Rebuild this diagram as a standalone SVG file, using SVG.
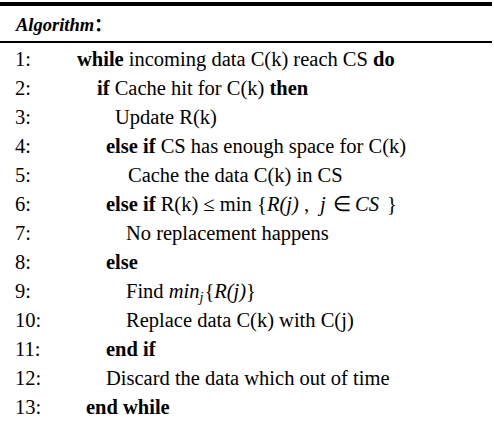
<svg xmlns="http://www.w3.org/2000/svg" width="494" height="423" viewBox="0 0 494 423">
<style>
.t{font-family:"Liberation Serif","Times New Roman",serif;font-size:20.5px;fill:#000}
.b{font-weight:bold}
.m{font-style:italic}
.h{font-family:"Liberation Serif","Noto Sans CJK SC",serif;font-size:18.5px;font-weight:bold;font-style:italic;fill:#000}
</style>
<rect x="0" y="2" width="492" height="4" fill="#000"/>
<rect x="0" y="41" width="492" height="2" fill="#000"/>
<g id="header"><text class="h" x="16" y="31">Algorithm<tspan x="94" font-style="normal">：</tspan></text></g>
<g id="rows">
<text class="t" x="15" y="65.5">1:</text>
<text class="t" x="77" y="65.5"><tspan class="b">while</tspan> incoming data C(k) reach CS <tspan class="b">do</tspan></text>
<text class="t" x="15" y="94.5">2:</text>
<text class="t" x="97" y="94.5"><tspan class="b">if</tspan> Cache hit for C(k) <tspan class="b">then</tspan></text>
<text class="t" x="15" y="123.5">3:</text>
<text class="t" x="115" y="123.5">Update R(k)</text>
<text class="t" x="15" y="152.5">4:</text>
<text class="t" x="106" y="152.5"><tspan class="b">else if</tspan> CS has enough space for C(k)</text>
<text class="t" x="15" y="181.5">5:</text>
<text class="t" x="128" y="181.5">Cache the data C(k) in CS</text>
<text class="t" x="15" y="210.5">6:</text>
<text class="t" x="106" y="210.5"><tspan class="b">else if</tspan> R(k) ≤ min<tspan x="257">{</tspan><tspan class="m" x="267">R(j)</tspan><tspan x="304">,</tspan><tspan class="m" x="320">j</tspan><tspan x="333">∈</tspan><tspan class="m" x="355">CS</tspan><tspan x="387">}</tspan></text>
<text class="t" x="15" y="239.5">7:</text>
<text class="t" x="126" y="239.5">No replacement happens</text>
<text class="t" x="15" y="268.5">8:</text>
<text class="t b" x="106" y="268.5">else</text>
<text class="t" x="15" y="297.5">9:</text>
<text class="t" x="126" y="297.5">Find <tspan class="m">min</tspan><tspan class="m" font-size="14" dy="4">j</tspan><tspan dy="-4" dx="1">{</tspan><tspan class="m">R(j)</tspan>}</text>
<text class="t" x="15" y="326.5">10:</text>
<text class="t" x="126" y="326.5">Replace data C(k) with C(j)</text>
<text class="t" x="15" y="355.5">11:</text>
<text class="t b" x="106" y="355.5">end if</text>
<text class="t" x="15" y="384.5">12:</text>
<text class="t" x="106" y="384.5">Discard the data which out of time</text>
<text class="t" x="15" y="413.5">13:</text>
<text class="t b" x="86" y="413.5">end while</text>
</g>
</svg>
